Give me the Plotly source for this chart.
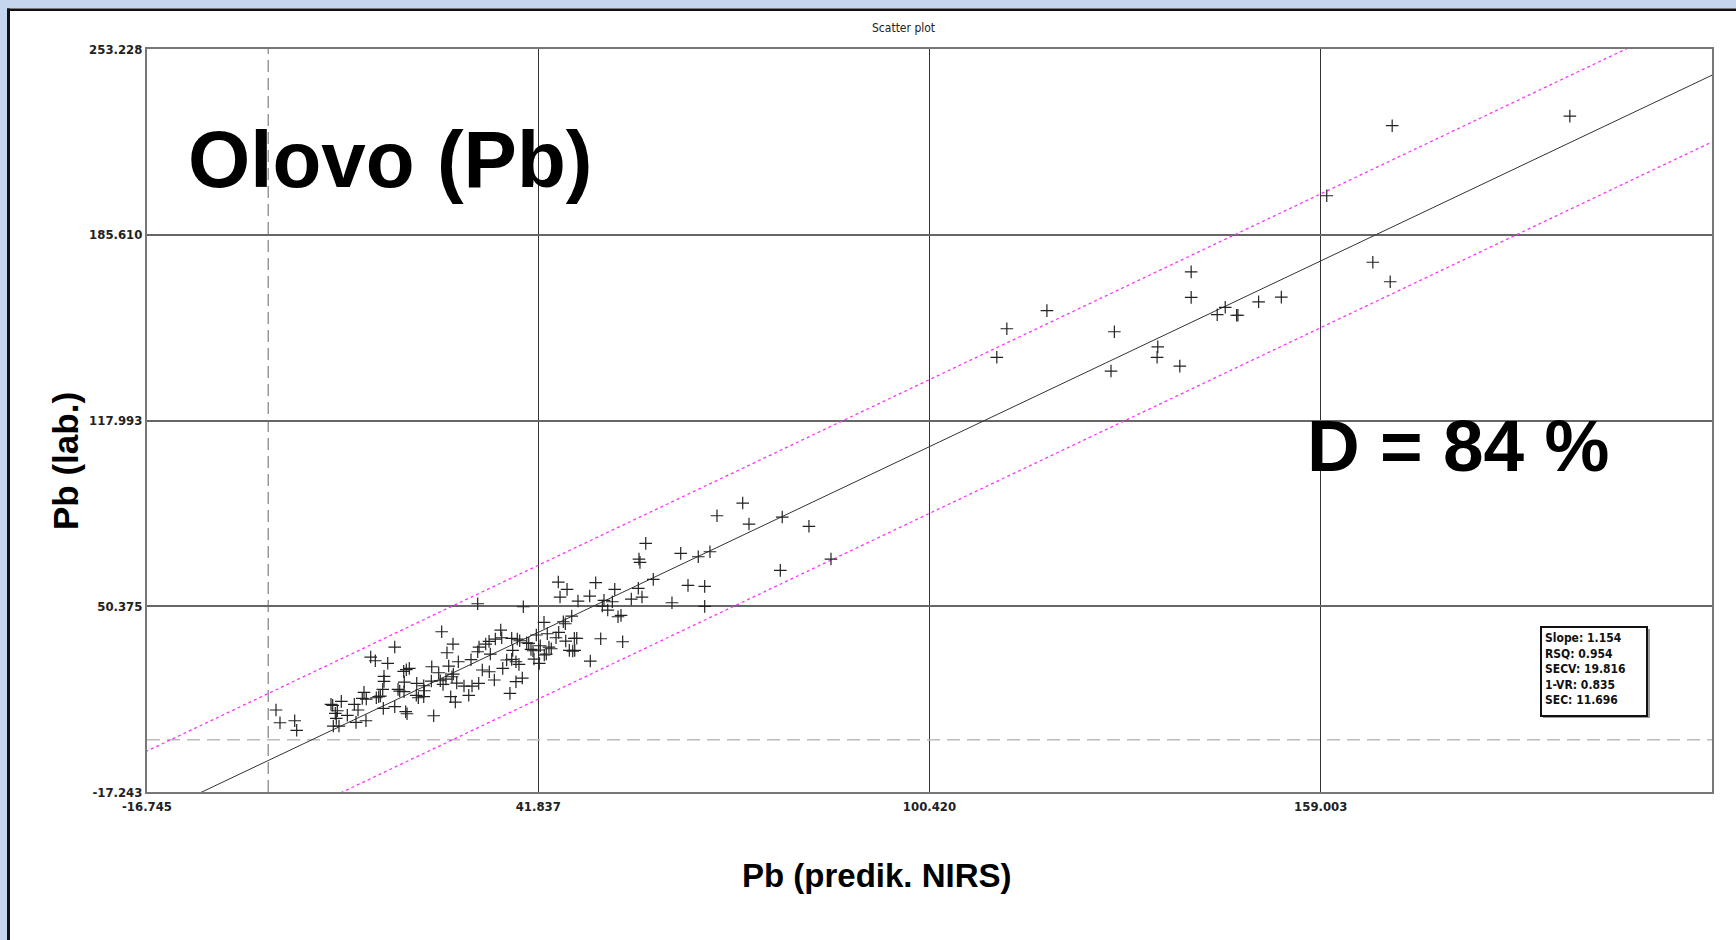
import plotly.graph_objects as go
import numpy as np

# ---------------- data ----------------
x_pred = [
    2.57, 3.17, 5.37, 5.67, 10.81, 11.06, 12.35, 11.75, 11.45, 11.60, 11.15, 12.00, 13.25, 14.30, 14.85,
    14.55, 16.04, 15.49, 15.75, 16.09, 16.75, 17.44, 19.30, 20.35, 18.74, 18.74, 18.55, 17.59, 17.95, 18.19,
    18.64, 20.35, 20.84, 21.09, 21.69, 22.08, 22.53, 21.78, 21.74, 21.99, 22.19, 23.64, 23.58, 23.88, 24.69,
    24.78, 24.69, 25.89, 26.18, 25.83, 26.93, 27.17, 27.58, 27.38, 28.17, 29.07, 28.43, 28.92, 29.87, 29.63,
    28.73, 29.42, 29.12, 30.72, 31.43, 31.77, 32.77, 34.66, 32.97, 33.97, 34.47, 35.41, 36.37, 36.22, 37.86,
    38.70, 39.06, 40.11, 40.41, 38.01, 40.75, 41.05, 42.14, 41.90, 43.44, 43.79, 46.49, 47.00, 47.30, 37.11,
    37.86, 38.50, 38.95, 41.20, 41.99, 42.74, 43.04, 49.63, 33.46, 34.51, 36.52, 35.26, 39.45, 38.50, 32.92,
    31.92, 37.60, 28.02, 44.84, 46.15, 45.10, 50.44, 49.54, 47.79, 53.29, 51.68, 52.93, 51.43, 52.24, 55.77,
    32.77, 39.60, 53.78, 54.23, 46.85, 45.59, 45.89, 42.70, 43.19, 41.55, 44.90, 44.50, 45.95, 47.24, 47.60,
    51.19, 54.48, 72.45, 68.60, 73.39, 78.37, 82.37, 57.93, 63.17, 65.80, 67.55, 56.92, 57.07, 78.08, 85.67,
    59.06, 64.26, 66.76, 56.82, 57.37, 61.86, 66.76,
    169.7, 196.3, 159.9, 166.8, 169.4, 139.6, 139.6, 153.1, 149.7, 144.7, 143.5, 146.4, 146.6, 118.0, 112.0,
    128.1, 110.5, 134.6, 134.5, 137.9, 127.6,
]
y_lab = [
    12.60, 7.97, 8.70, 5.21, 14.67, 14.31, 15.76, 12.34, 11.39, 9.57, 6.77, 6.77, 10.67, 14.67, 12.60,
    8.12, 8.70, 16.85, 19.04, 16.60, 31.89, 30.54, 29.60, 35.53, 24.86, 23.04, 20.13, 17.07, 17.44, 17.69,
    13.21, 13.80, 20.13, 19.51, 26.68, 27.27, 27.77, 22.79, 19.26, 11.98, 11.25, 22.31, 17.95, 17.07, 21.44,
    19.62, 17.44, 28.36, 10.52, 23.15, 26.17, 23.26, 21.95, 41.10, 33.45, 36.62, 28.61, 24.72, 30.18, 22.42,
    17.44, 15.51, 25.70, 21.33, 17.95, 30.91, 33.82, 32.98, 35.53, 36.62, 37.60, 38.44, 38.91, 41.72, 38.70,
    38.44, 37.82, 37.09, 36.87, 34.33, 34.69, 34.18, 36.00, 34.44, 35.53, 34.91, 34.33, 34.07, 34.33, 30.80,
    31.05, 30.18, 29.23, 31.16, 29.59, 32.62, 32.98, 30.43, 27.16, 26.54, 27.77, 23.52, 24.24, 22.90, 22.31,
    21.33, 18.67, 23.88, 59.19, 56.53, 53.73, 58.94, 54.09, 52.27, 56.53, 52.53, 52.02, 50.45, 49.00, 53.00,
    51.29, 50.20, 46.56, 47.07, 46.81, 44.74, 44.01, 44.52, 40.37, 39.90, 40.88, 38.91, 37.71, 38.70, 38.70,
    38.55, 37.46, 87.95, 83.32, 80.30, 82.85, 79.47, 73.28, 69.64, 68.40, 70.22, 67.56, 66.36, 63.45, 67.56,
    60.17, 57.99, 57.62, 56.90, 53.73, 51.65, 50.34,
    225.3, 228.8, 199.8, 175.6, 168.5, 172.1, 162.8, 162.9, 161.2, 159.2, 156.5, 156.3, 156.3, 158.0, 151.4,
    150.3, 141.0, 144.8, 141.0, 137.8, 136.0,
]

x_ticks = [-16.745, 41.837, 100.420, 159.003, 217.585]
x_tick_labels = ["-16.745", "41.837", "100.420", "159.003", "217.585"]
y_ticks = [-17.243, 50.375, 117.993, 185.610, 253.228]
y_tick_labels = ["-17.243", "50.375", "117.993", "185.610", "253.228"]

slope = 1.154
intercept = -7.4
band_upper = 24.4
band_lower = -24.3
x_ref = 1.4      # vertical dashed reference
y_ref = 1.8      # horizontal dashed reference

stats_lines = ["Slope: 1.154", "RSQ: 0.954", "SECV: 19.816", "1-VR: 0.835", "SEC: 11.696"]

# ---------------- layout helpers ----------------
W, H = 1736, 940
ML, MR, MT, MB = 147, 24, 49, 148
PW, PH = W - ML - MR, H - MT - MB


def px(xp):
    return (xp - ML) / PW


def py(yp):
    return (H - MB - yp) / PH


NARROW = "Liberation Sans Narrow, Arial Narrow, DejaVu Sans Condensed, sans-serif"
BOLD = "Liberation Sans, Arial, sans-serif"

xr = [x_ticks[0], x_ticks[-1]]
yr = [y_ticks[0], y_ticks[-1]]
xl = np.array([xr[0] - 40, xr[1] + 40])

fig = go.Figure()

fig.add_trace(go.Scatter(x=[x_ref, x_ref], y=yr, mode="lines",
                         line=dict(color="#666666", width=1, dash="12px,6px"), hoverinfo="skip"))
fig.add_trace(go.Scatter(x=xr, y=[y_ref, y_ref], mode="lines",
                         line=dict(color="#bbbbbb", width=1.5, dash="13px,7px"), hoverinfo="skip"))
fig.add_trace(go.Scatter(x=xl, y=slope * xl + intercept + band_upper, mode="lines",
                         line=dict(color="#ff33ff", width=1.3, dash="3px,3px")))
fig.add_trace(go.Scatter(x=xl, y=slope * xl + intercept + band_lower, mode="lines",
                         line=dict(color="#ff33ff", width=1.3, dash="3px,3px")))
fig.add_trace(go.Scatter(x=xl, y=slope * xl + intercept, mode="lines",
                         line=dict(color="#333333", width=1)))
fig.add_trace(go.Scatter(x=x_pred, y=y_lab, mode="markers",
                         marker=dict(symbol="cross-thin", size=9,
                                     line=dict(width=1.2, color="#222222"))))

axis_common = dict(showline=True, mirror=True, linecolor="#777777", linewidth=2,
                   zeroline=False, ticks="", showgrid=True,
                   tickfont=dict(family=NARROW, size=13, color="#222222", weight="bold"))

fig.update_xaxes(range=xr, tickvals=x_ticks, ticktext=x_tick_labels,
                 gridcolor="#333333", gridwidth=1, ticklabelstandoff=1, **axis_common)
fig.update_yaxes(range=yr, tickvals=y_ticks, ticktext=y_tick_labels,
                 gridcolor="#666666", gridwidth=1.5, **axis_common)

annotations = [
    dict(text="Scatter plot", x=px(903), y=py(28), xref="paper", yref="paper",
         xanchor="center", yanchor="middle", showarrow=False,
         font=dict(family=NARROW, size=12, color="#222222")),
    dict(text="<b>Olovo (Pb)</b>", x=px(186), y=py(160), xref="paper", yref="paper",
         xanchor="left", yanchor="middle", showarrow=False,
         font=dict(family=BOLD, size=80, color="#000000")),
    dict(text="<b>D = 84 %</b>", x=px(1305), y=py(445), xref="paper", yref="paper",
         xanchor="left", yanchor="middle", showarrow=False,
         font=dict(family=BOLD, size=73, color="#000000")),
    dict(text="<b>Pb (predik. NIRS)</b>", x=px(877), y=py(875), xref="paper", yref="paper",
         xanchor="center", yanchor="middle", showarrow=False,
         font=dict(family=BOLD, size=33, color="#000000")),
    dict(text="<b>Pb (lab.)</b>", x=px(65), y=py(461), xref="paper", yref="paper",
         xanchor="center", yanchor="middle", showarrow=False, textangle=-90,
         font=dict(family=BOLD, size=35, color="#000000")),
    dict(text="<br>".join(stats_lines), x=px(1540), y=py(626), xref="paper", yref="paper",
         xanchor="left", yanchor="top", align="left", valign="top", showarrow=False,
         width=98, height=81,
         bordercolor="#111111", borderwidth=2, borderpad=3, bgcolor="#ffffff",
         font=dict(family=NARROW, size=12, color="#111111", weight="bold")),
]

shapes = [
    # stats box shadow
    dict(type="rect", xref="paper", yref="paper", x0=px(1543), x1=px(1650), y0=py(629), y1=py(718),
         fillcolor="#9a9a9a", line=dict(width=0), layer="above"),
    # window frame: blue strips + black border
    dict(type="rect", xref="paper", yref="paper", x0=px(0), x1=px(W), y0=py(0), y1=py(8.5),
         fillcolor="#c6d5ee", line=dict(width=0), layer="above"),
    dict(type="rect", xref="paper", yref="paper", x0=px(0), x1=px(7), y0=py(0), y1=py(H),
         fillcolor="#c6d5ee", line=dict(width=0), layer="above"),
    dict(type="rect", xref="paper", yref="paper", x0=px(7), x1=px(W), y0=py(8.5), y1=py(11),
         fillcolor="#111111", line=dict(width=0), layer="above"),
    dict(type="rect", xref="paper", yref="paper", x0=px(7), x1=px(10), y0=py(8.5), y1=py(H),
         fillcolor="#111111", line=dict(width=0), layer="above"),
]

fig.update_layout(
    width=W, height=H,
    margin=dict(l=ML, r=MR, t=MT, b=MB, pad=0),
    paper_bgcolor="#ffffff", plot_bgcolor="#ffffff",
    showlegend=False,
    annotations=annotations,
    shapes=shapes,
)

fig.write_html("out.html")
